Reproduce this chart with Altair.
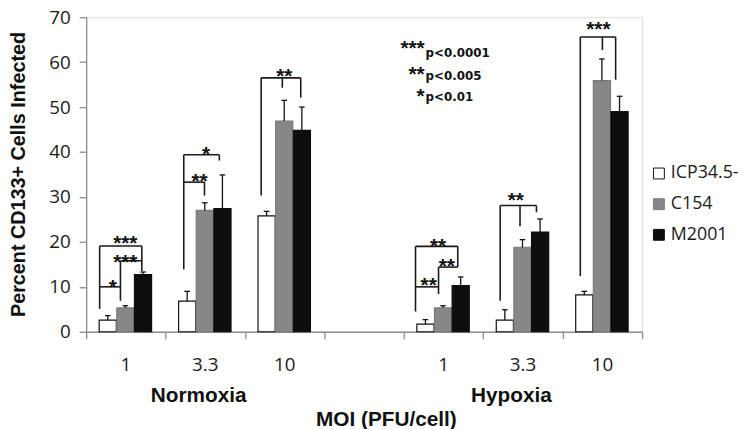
import altair as alt
import pandas as pd

# ---------------- data ----------------
series = ["ICP34.5-", "C154", "M2001"]
conditions = ["Normoxia", "Normoxia", "Normoxia", "Hypoxia", "Hypoxia", "Hypoxia"]
moi_labels = ["1", "3.3", "10", "1", "3.3", "10"]
slots = [0, 1, 2, 4, 5, 6]          # slot 3 is the empty gap between conditions

icp_mean = [2.6, 6.8, 25.8, 1.7, 2.6, 8.2]
icp_sd = [1.0, 2.2, 1.0, 1.0, 2.3, 0.8]
c154_mean = [5.3, 27.0, 46.9, 5.3, 18.8, 55.9]
c154_sd = [0.5, 1.7, 4.6, 0.5, 1.7, 4.8]
m2001_mean = [12.7, 27.4, 44.8, 10.3, 22.2, 49.0]
m2001_sd = [0.6, 7.5, 5.2, 1.9, 2.9, 3.4]

# significance brackets: segments (x1, y1, x2, y2) in axis units
bracket_x1 = [0.17, 0.17, 0.432, 0.432, 0.17, 0.701,
              1.229, 1.229, 1.677, 1.229, 1.49,
              2.204, 2.204, 2.702, 2.47,
              4.147, 4.147, 4.437, 4.437, 4.147, 4.679,
              5.213, 5.213, 5.67, 5.463,
              6.222, 6.222, 6.667, 6.5]
bracket_y1 = [5.1, 10.0, 6.9, 15.8, 19.1, 19.1,
              13.9, 39.4, 39.4, 33.3, 33.3,
              30.3, 56.5, 56.5, 56.5,
              4.5, 10.0, 8.4, 14.4, 19.0, 19.0,
              6.9, 28.1, 28.1, 28.1,
              12.4, 65.6, 65.6, 65.6]
bracket_x2 = [0.17, 0.432, 0.432, 0.701, 0.701, 0.701,
              1.229, 1.677, 1.677, 1.49, 1.49,
              2.204, 2.702, 2.702, 2.47,
              4.147, 4.437, 4.437, 4.679, 4.679, 4.679,
              5.213, 5.67, 5.67, 5.463,
              6.222, 6.667, 6.667, 6.5]
bracket_y2 = [19.1, 10.0, 15.8, 15.8, 19.1, 13.5,
              39.4, 39.4, 38.1, 33.3, 30.3,
              56.5, 56.5, 52.1, 54.3,
              19.0, 10.0, 14.4, 14.4, 19.0, 14.4,
              28.1, 28.1, 26.6, 23.5,
              65.6, 65.6, 56.1, 62.7]

star_x = [0.336, 0.493, 0.493, 1.428, 1.51, 2.495, 4.313, 4.54, 4.43, 5.41, 6.45]
star_y = [8.3, 14.0, 18.2, 32.0, 38.0, 55.4, 8.8, 13.1, 17.6, 27.8, 65.8]
star_text = ["*", "***", "***", "**", "*", "**", "**", "**", "**", "**", "***"]

key_stars = ["***", "**", "*"]
key_pvals = ["p<0.0001", "p<0.005", "p<0.01"]
key_star_y = [61.6, 55.7, 51.0]
key_p_y = [61.25, 56.0, 51.25]
key_x = 4.262

group_label_x = [1.416, 5.355]
group_labels = ["Normoxia", "Hypoxia"]

# ---------------- tables ----------------
offsets = [0.272, 0.494, 0.716]
half_w = 0.108
cap_w = 0.035
means = [icp_mean, c154_mean, m2001_mean]
sds = [icp_sd, c154_sd, m2001_sd]
rows = []
for k, s in enumerate(series):
    for i, slot in enumerate(slots):
        c = slot + offsets[k]
        rows.append(dict(series=s, condition=conditions[i], moi=moi_labels[i],
                         x=c - half_w, x2=c + half_w, xc=c,
                         cl=c - cap_w, cr=c + cap_w,
                         mean=means[k][i], top=means[k][i] + sds[k][i], zero=0))
bars = pd.DataFrame(rows)

brackets = pd.DataFrame(dict(x1=bracket_x1, y1=bracket_y1, x2=bracket_x2, y2=bracket_y2))
stars = pd.DataFrame(dict(x=star_x, y=star_y, t=star_text))
key_s = pd.DataFrame(dict(x=[key_x] * 3, y=key_star_y, t=key_stars))
key_p = pd.DataFrame(dict(x=[key_x + 0.012] * 3, y=key_p_y, t=key_pvals))
moi_df = pd.DataFrame(dict(x=[s + 0.5 for s in slots], y=[-7.4] * 6, t=moi_labels))
grp_df = pd.DataFrame(dict(x=group_label_x, y=[-14.4] * 2, t=group_labels))

# ---------------- chart ----------------
xs = alt.Scale(domain=[0, 7], nice=False, zero=False)
ys = alt.Scale(domain=[0, 70], nice=False)

AX = "#8c8c8c"
x_axis = alt.Axis(values=list(range(8)), labels=False, tickSize=7, grid=False,
                  domainColor=AX, tickColor=AX, domainWidth=1.3, tickWidth=1.3,
                  title="MOI (PFU/cell)", titleFont="Liberation Sans", titleFontWeight="bold",
                  titleFontSize=21, titleColor="#111", titleX=303, titleY=78,
                  titleAlign="center", titleBaseline="top")
y_axis = alt.Axis(values=list(range(0, 71, 10)), tickSize=7, grid=False,
                  domainColor=AX, tickColor=AX, domainWidth=1.3, tickWidth=1.3,
                  labelFont="Open Sans", labelFontSize=19, labelColor="#1a1a1a", labelPadding=9,
                  title="Percent CD133+ Cells Infected", titleFont="Liberation Sans",
                  titleFontWeight="bold", titleFontSize=20, titleColor="#111",
                  titleX=-68, titleY=158.5, titleAngle=270, titleAlign="center",
                  titleBaseline="middle")

bar_layer = alt.Chart(bars).mark_rect(strokeWidth=1.2).encode(
    x=alt.X("x:Q", scale=xs, axis=x_axis),
    x2="x2:Q",
    y=alt.Y("zero:Q", scale=ys, axis=y_axis),
    y2="mean:Q",
    fill=alt.Fill("series:N", sort=series,
                  scale=alt.Scale(domain=series, range=["#ffffff", "#878787", "#0e0e0e"]),
                  legend=alt.Legend(title=None, orient="none", legendX=570, legendY=149,
                                    symbolType="square", symbolSize=121,
                                    symbolStrokeColor="#111", symbolStrokeWidth=1,
                                    labelFont="Open Sans", labelFontSize=18, labelColor="#1a1a1a",
                                    labelOffset=3, rowPadding=13, padding=0)),
    stroke=alt.Stroke("series:N", sort=series,
                      scale=alt.Scale(domain=series, range=["#111111", "#7a7a7a", "#0e0e0e"]),
                      legend=None),
)

err_v = alt.Chart(bars).mark_rule(color="#111", strokeWidth=1.3).encode(
    x="xc:Q", y="mean:Q", y2="top:Q")
err_c = alt.Chart(bars).mark_rule(color="#111", strokeWidth=1.3).encode(
    x="cl:Q", x2="cr:Q", y="top:Q")

br = alt.Chart(brackets).mark_rule(color="#1a1a1a", strokeWidth=1.6).encode(
    x="x1:Q", y="y1:Q", x2="x2:Q", y2="y2:Q")

star_layer = alt.Chart(stars).mark_text(font="Liberation Sans", fontWeight="bold", fontSize=21,
                                        baseline="alphabetic", align="center", color="#111").encode(
    x="x:Q", y="y:Q", text="t:N")

key_star_layer = alt.Chart(key_s).mark_text(font="Liberation Sans", fontWeight="bold", fontSize=21,
                                            baseline="alphabetic", align="right", color="#111").encode(
    x="x:Q", y="y:Q", text="t:N")
key_p_layer = alt.Chart(key_p).mark_text(font="DejaVu Sans", fontWeight="bold", fontSize=12,
                                         baseline="alphabetic", align="left", color="#111").encode(
    x="x:Q", y="y:Q", text="t:N")

moi_layer = alt.Chart(moi_df).mark_text(font="Open Sans", fontSize=19, baseline="middle",
                                        align="center", color="#1a1a1a").encode(
    x="x:Q", y="y:Q", text="t:N")
grp_layer = alt.Chart(grp_df).mark_text(font="Liberation Sans", fontWeight="bold", fontSize=21,
                                        baseline="middle", align="center", color="#111").encode(
    x="x:Q", y="y:Q", text="t:N")

chart = alt.layer(bar_layer, err_v, err_c, br, star_layer, key_star_layer, key_p_layer,
                  moi_layer, grp_layer).properties(
    width=562, height=318,
    autosize=alt.AutoSizeParams(type="none"),
    padding={"left": 79, "top": 7, "right": 101, "bottom": 96},
).configure_view(stroke=None).configure(background="white")

chart.save("out.html", embed_options={"renderer": "svg", "actions": False})
